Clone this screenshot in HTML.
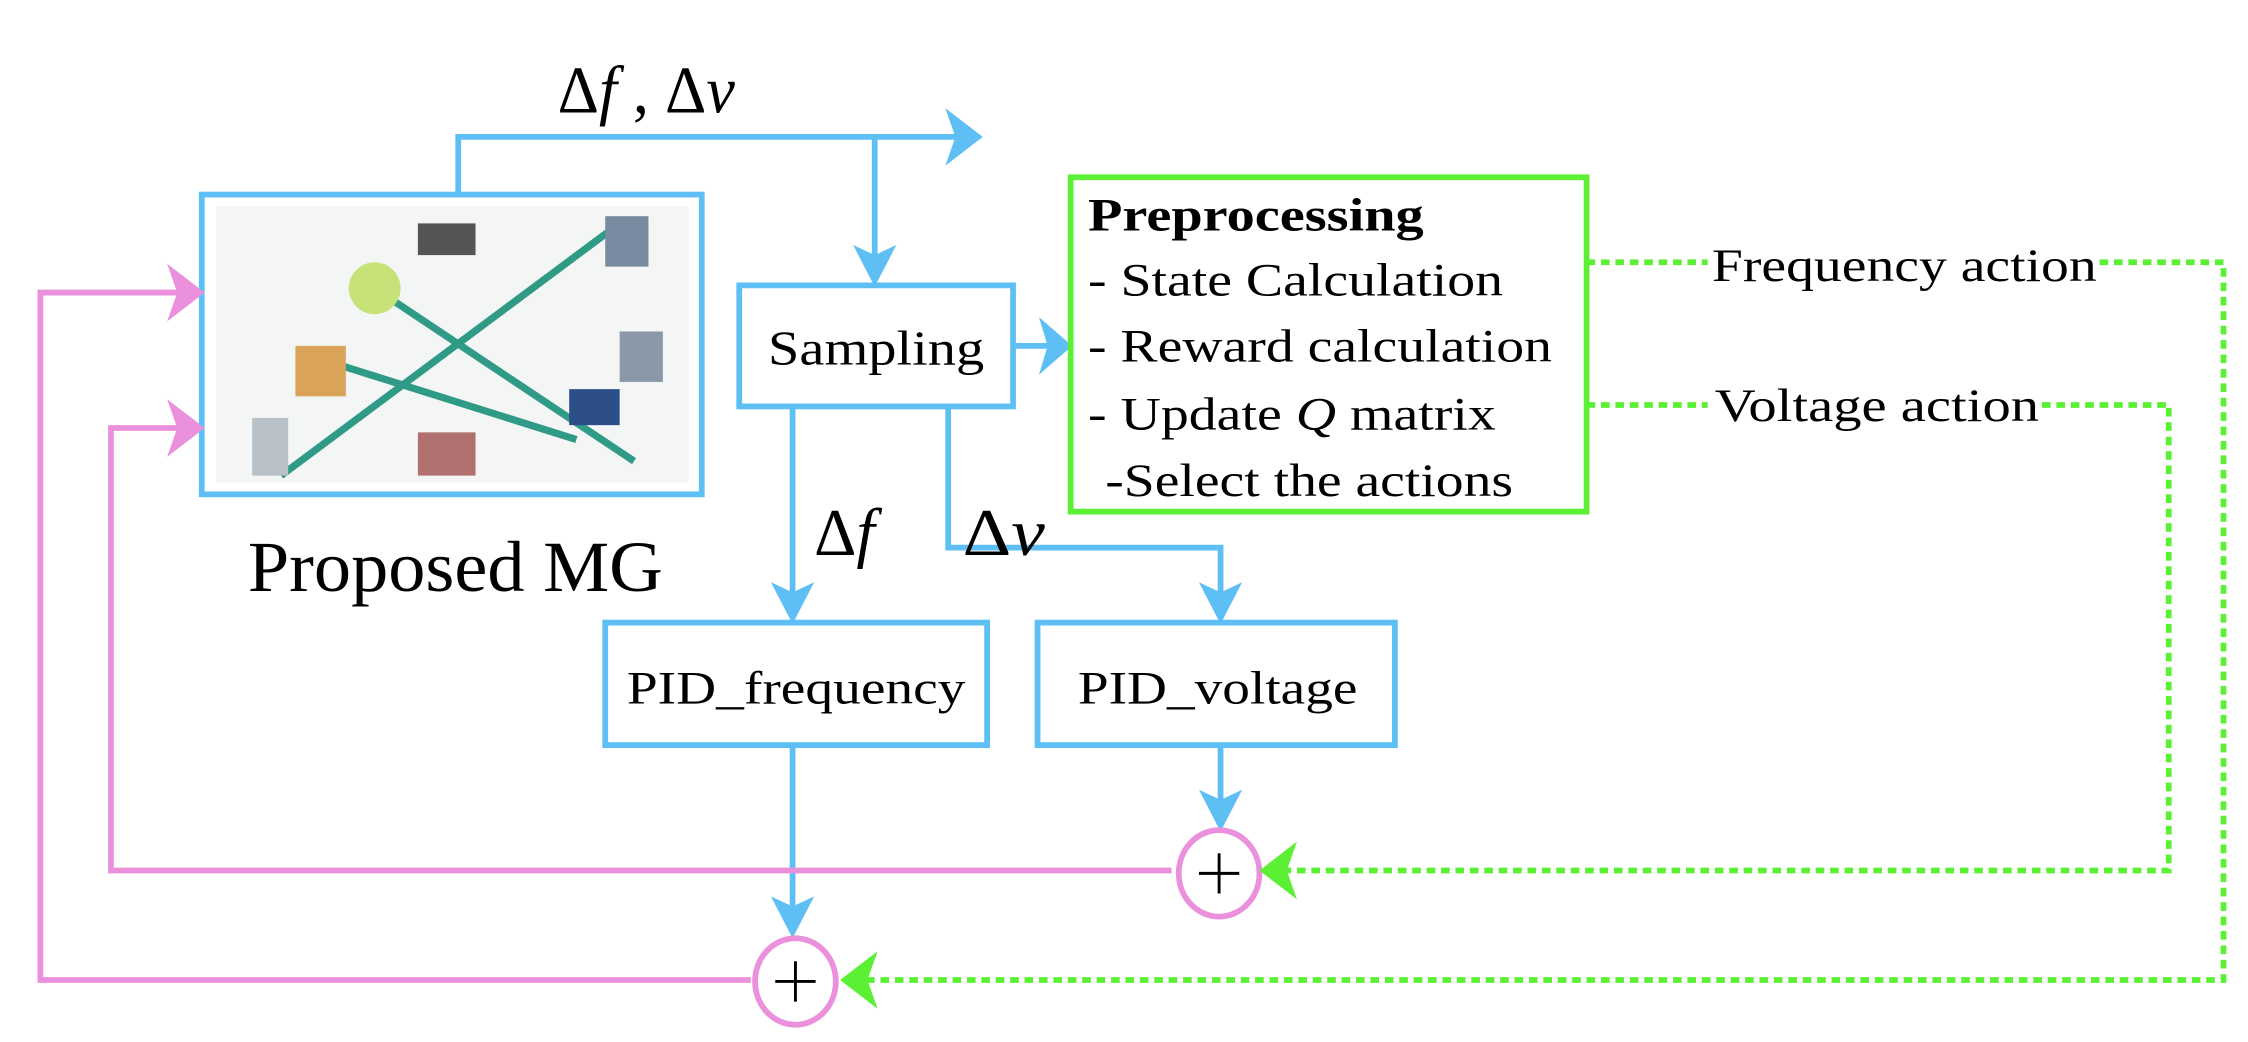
<!DOCTYPE html>
<html><head><meta charset="utf-8"><style>html,body{margin:0;padding:0;background:#fff}svg{display:block}svg text{font-family:"Liberation Serif","Times New Roman",Times,"DejaVu Serif",serif}</style></head>
<body>
<svg width="2248" height="1042" viewBox="0 0 1560 723" preserveAspectRatio="none" xmlns="http://www.w3.org/2000/svg" font-family="'Liberation Serif', 'Times New Roman', serif">
<g fill="none" stroke="#5ebff5" stroke-width="4">
<rect x="140" y="135" width="347" height="208"/>
<rect x="513" y="198" width="190" height="84"/>
<rect x="420" y="432" width="265" height="85"/>
<rect x="720" y="432" width="248" height="85"/>
<path d="M318,135 V95 H666"/>
<path d="M607,95 V184"/>
<path d="M703,240 H728"/>
<path d="M550,282 V418"/>
<path d="M658,282 V380 H847 V418"/>
<path d="M847,517 V562"/>
<path d="M550,517 V636"/>
</g>
<g fill="#5ebff5">
<polygon points="656,75 682,95 656,115 663,95"/>
<polygon points="592,170 607,199 622,170 607,177"/>
<polygon points="721,220 744,240 721,260 727,240"/>
<polygon points="535,404 550,433 565,404 550,411"/>
<polygon points="832,404 847,433 862,404 847,411"/>
<polygon points="832,548 847,577 862,548 847,555"/>
<polygon points="535,622 550,651 565,622 550,629"/>
</g>
<g>
<rect x="150" y="143" width="328" height="192" fill="#f4f6f5"/>
<g stroke="#2f9a85" stroke-width="5">
<line x1="195" y1="330" x2="430" y2="155"/>
<line x1="260" y1="200" x2="440" y2="320"/>
<line x1="225" y1="250" x2="400" y2="305"/>
</g>
<rect x="290" y="155" width="40" height="22" fill="#555"/>
<rect x="420" y="150" width="30" height="35" fill="#7a8aa0"/>
<circle cx="260" cy="200" r="18" fill="#c8e27a"/>
<rect x="205" y="240" width="35" height="35" fill="#d9a35a"/>
<rect x="430" y="230" width="30" height="35" fill="#8a98a8"/>
<rect x="395" y="270" width="35" height="25" fill="#2c4f8a"/>
<rect x="175" y="290" width="25" height="40" fill="#b8c0c8"/>
<rect x="290" y="300" width="40" height="30" fill="#b07070"/>
</g>
<g fill="none" stroke="#ea90dc" stroke-width="4">
<path d="M813,604 H77 V297 H125"/>
<path d="M521,680 H28 V203 H125"/>
<ellipse cx="846" cy="606" rx="28" ry="30" fill="#fff"/>
<ellipse cx="552" cy="681" rx="28" ry="30" fill="#fff"/>
</g>
<g fill="#ea90dc">
<polygon points="116,183 142,203 116,223 123,203"/>
<polygon points="116,277 142,297 116,317 123,297"/>
</g>
<g stroke="#000" stroke-width="2">
<path d="M832,606 H860 M846,592 V620"/>
<path d="M538,681 H566 M552,667 V695"/>
</g>
<rect x="743" y="123" width="358" height="232" fill="none" stroke="#5cf035" stroke-width="4"/>
<g fill="none" stroke="#5cf035" stroke-width="4" stroke-dasharray="6,4">
<path d="M1101,182 H1185 M1457,182 H1543 V680 H598"/>
<path d="M1101,281 H1185 M1417,281 H1505 V604 H890"/>
</g>
<g fill="#5cf035">
<polygon points="900,584 874,604 900,624 893,604"/>
<polygon points="609,660 583,680 609,700 602,680"/>
</g>
<g fill="#000">
<text x="387" y="78" font-size="46" textLength="123" lengthAdjust="spacingAndGlyphs">Δ<tspan font-style="italic">f</tspan> , Δ<tspan font-style="italic">v</tspan></text>
<text x="172" y="410" font-size="50" textLength="288" lengthAdjust="spacingAndGlyphs">Proposed MG</text>
<text x="533" y="253" font-size="34" textLength="150" lengthAdjust="spacingAndGlyphs">Sampling</text>
<text x="755" y="160" font-size="32" font-weight="bold" textLength="233" lengthAdjust="spacingAndGlyphs">Preprocessing</text>
<text x="755" y="205" font-size="32" textLength="288" lengthAdjust="spacingAndGlyphs">- State Calculation</text>
<text x="755" y="251" font-size="32" textLength="322" lengthAdjust="spacingAndGlyphs">- Reward calculation</text>
<text x="755" y="298" font-size="32" textLength="283" lengthAdjust="spacingAndGlyphs">- Update <tspan font-style="italic">Q</tspan> matrix</text>
<text x="767" y="344" font-size="32" textLength="283" lengthAdjust="spacingAndGlyphs">-Select the actions</text>
<text x="1188" y="195" font-size="32" textLength="267" lengthAdjust="spacingAndGlyphs">Frequency action</text>
<text x="1190" y="292" font-size="32" textLength="225" lengthAdjust="spacingAndGlyphs">Voltage action</text>
<text x="565" y="385" font-size="46" textLength="42" lengthAdjust="spacingAndGlyphs">Δ<tspan font-style="italic">f</tspan></text>
<text x="668" y="385" font-size="46" textLength="57" lengthAdjust="spacingAndGlyphs">Δ<tspan font-style="italic">v</tspan></text>
<text x="435" y="488" font-size="32" textLength="235" lengthAdjust="spacingAndGlyphs">PID_frequency</text>
<text x="748" y="488" font-size="32" textLength="194" lengthAdjust="spacingAndGlyphs">PID_voltage</text>
</g>
</svg>
</body></html>
